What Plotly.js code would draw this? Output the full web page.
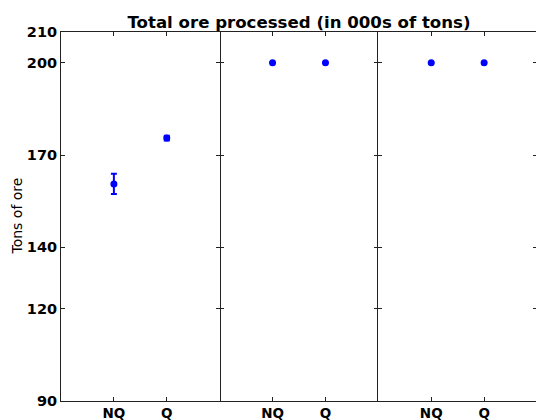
<!DOCTYPE html>
<html><head><meta charset="utf-8">
<script src="https://cdn.plot.ly/plotly-3.0.1.min.js"></script>
<style>html,body{margin:0;padding:0;overflow:hidden;background:#fff}</style>
</head><body>
<div id="chart" style="width:538px;height:420px"></div>
<script>
const categories = ["NQ", "Q"];
const panel1Values = [160.6, 175.5];
const panel1Errors = [3.3, 0.8];
const panel2Values = [200, 200];
const panel2Errors = [0, 0];
const panel3Values = [200, 200];
const panel3Errors = [0, 0];
const yTickVals = [90, 120, 140, 170, 200, 210];
const titleText = "Total ore processed (in 000s of tons)";
const yLabel = "Tons of ore";

const panels = [
  [panel1Values, panel1Errors],
  [panel2Values, panel2Errors],
  [panel3Values, panel3Errors]
];

const yTickFont = {family: "DejaVu Sans", size: 14.5, color: "#000", weight: "bold"};
const xTickFont = {family: "DejaVu Sans", size: 13.5, color: "#000", weight: "bold"};
const traces = panels.map((p, i) => ({
  type: "scatter", mode: "markers",
  x: categories, y: p[0],
  xaxis: i === 0 ? "x" : "x" + (i + 1),
  yaxis: i === 0 ? "y" : "y" + (i + 1),
  marker: {color: "#0000ff", size: 7, symbol: "circle"},
  error_y: {type: "data", array: p[1], visible: true, color: "#0000ff", thickness: 2, width: 3},
  showlegend: false, hoverinfo: "skip"
}));

const layout = {
  width: 538, height: 420,
  margin: {l: 61, r: 1, t: 32, b: 19},
  paper_bgcolor: "#fff", plot_bgcolor: "#fff",
  title: {text: titleText, font: {family: "DejaVu Sans", size: 16.6, color: "#000", weight: "bold"},
          x: 0.5, xref: "paper", y: 1, yref: "paper", yanchor: "bottom", pad: {b: 4}},
  annotations: [{
    text: yLabel, textangle: -90, xref: "paper", yref: "paper",
    x: (16 - 61) / 476, y: 0.5, xanchor: "center", yanchor: "middle", showarrow: false,
    font: {family: "DejaVu Sans", size: 14, color: "#000"}
  }]
};
for (let i = 0; i < 3; i++) {
  const xs = i === 0 ? "xaxis" : "xaxis" + (i + 1);
  const ys = i === 0 ? "yaxis" : "yaxis" + (i + 1);
  layout[xs] = {
    domain: [i / 3, (i + 1) / 3], anchor: i === 0 ? "y" : "y" + (i + 1),
    type: "category", categoryarray: categories, range: [-1, 2],
    showline: true, linecolor: "#222", linewidth: 1, mirror: "ticks",
    ticks: "inside", ticklen: 4, tickcolor: "#222", showgrid: false, zeroline: false,
    tickfont: xTickFont, fixedrange: true
  };
  layout[ys] = {
    anchor: i === 0 ? "x" : "x" + (i + 1),
    range: [90, 210], tickmode: "array", tickvals: yTickVals,
    showline: i !== 1, linecolor: "#222", linewidth: 1, mirror: "ticks",
    ticks: "inside", ticklen: 4, tickcolor: "#222", showgrid: false, zeroline: false,
    showticklabels: i === 0, tickfont: yTickFont, fixedrange: true
  };
}
Plotly.newPlot("chart", traces, layout, {displayModeBar: false, staticPlot: true});
</script>
</body></html>
